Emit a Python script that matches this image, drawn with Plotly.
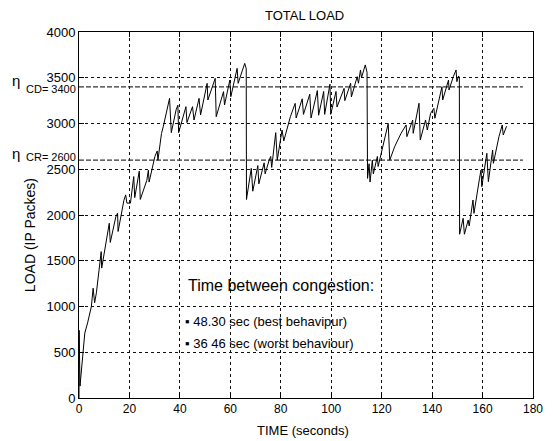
import plotly.graph_objects as go

# ---- data ----
time_s = [
    0, 0.05, 0.4, 1.3, 2.3, 3.4, 4.9, 5.6, 6.2, 6.9, 8.8, 9.0, 11.4, 12.0, 12.4,
    14.6, 15.3, 15.5, 17.8, 18.5, 19.0, 20.4, 21.7, 22.1, 23.9, 24.3, 26.9, 27.5,
    27.8, 30.1, 31.0, 31.3, 32.7, 33.4, 35.9, 36.6, 38.5, 39.2, 39.5, 41.8, 42.4,
    42.8, 45.0, 45.6, 47.6, 48.2, 50.8, 51.1, 54.0, 54.4, 57.3, 57.7, 59.8, 60.2,
    62.7, 63.1, 65.7, 66.3,
    66.4, 68.3, 68.9, 70.9, 71.3, 73.4, 73.8, 75.4, 76.0, 76.4, 78.0, 78.6, 80.5,
    81.2, 83.8, 85.7, 86.1, 88.5, 89.0, 91.5, 92.0, 94.5, 95.0, 97.0, 97.4, 99.5,
    99.8, 101.9, 102.3, 105.1, 105.4, 107.7, 108.0, 110.3, 110.8, 111.6, 112.0,
    113.5, 114.2,
    114.4, 115.0, 115.4, 116.3, 116.7, 118.3, 118.6, 120.6, 122.6, 123.2, 125.2,
    127.7, 129.7, 130.0, 132.3, 132.5, 134.8, 135.3, 137.4, 138.1, 139.4, 140.7,
    141.1, 143.9, 144.2, 146.5, 146.7, 148.4, 149.5, 149.8, 150.5, 150.8,
    150.9, 152.3, 152.8, 154.3, 154.7, 156.2, 156.6, 158.8, 159.4, 159.7, 161.7,
    162.3, 164.0, 164.3, 166.5, 167.8, 168.2, 169.5,
]
load_ip = [
    0, 740, 130, 420, 710, 820, 1000, 1200, 1040, 1150, 1600, 1420, 1840, 1910, 1700,
    1980, 2020, 1820, 2160, 2220, 2130, 2130, 2420, 2190, 2480, 2170, 2380, 2490,
    2360, 2640, 2700, 2600, 2890, 2965, 3275, 2900, 3150, 3200, 2900, 3110, 3184,
    3010, 3184, 3038, 3275, 3093, 3439, 3257, 3494, 3074, 3348, 3202, 3475, 3293,
    3603, 3439, 3657, 3600,
    2170, 2510, 2260, 2540, 2340, 2570, 2450, 2600, 2640, 2520, 2900, 2600, 2929,
    2810, 3074, 3220, 3060, 3270, 3100, 3320, 3060, 3360, 3090, 3350, 3100, 3430,
    3100, 3350, 3180, 3384, 3250, 3440, 3290, 3512, 3440, 3585, 3500,
    3640, 3560,
    2400, 2560, 2360, 2600, 2450, 2640, 2530, 2780, 3000, 2600, 2750,
    2893, 2984, 2856, 3038, 2893, 3221, 2820, 3038, 2929, 3111, 3166,
    3057, 3402, 3257, 3475, 3366, 3512, 3585, 3457, 3520, 3500,
    1790, 1964, 1790, 1945, 1880, 2164, 2018, 2401, 2492, 2309, 2674,
    2364, 2710, 2565, 2856, 2984, 2874, 2970,
]
thresholds = [3400, 2600]
threshold_labels = ["CD= 3400", "CR= 2600"]
threshold_end = 176
x_ticks = [0, 20, 40, 60, 80, 100, 120, 140, 160, 180]
y_ticks = [0, 500, 1000, 1500, 2000, 2500, 3000, 3500, 4000]
notes = ["Time between congestion:", "\u25aa 48.30 sec (best behavipur)", "\u25aa 36 46 sec (worst behaviour)"]

FONT = "Liberation Sans, Arial, sans-serif"

fig = go.Figure()

for th in thresholds:
    fig.add_trace(go.Scatter(
        x=[0, threshold_end], y=[th, th], mode="lines",
        line=dict(color="#333333", width=1.3, dash="5px,2px"),
        hoverinfo="skip", showlegend=False))

fig.add_trace(go.Scatter(
    x=time_s, y=load_ip, mode="lines",
    line=dict(color="black", width=1), showlegend=False))

axis_common = dict(
    showline=True, linecolor="black", linewidth=1, mirror="ticks",
    ticks="inside", ticklen=5, tickcolor="black",
    showgrid=True, gridcolor="#111111", gridwidth=1, griddash="3px,3px",
    zeroline=False, ticklabeloverflow="allow",
)

fig.update_xaxes(range=[0, 180], tickvals=x_ticks, ticktext=[str(v) for v in x_ticks],
                 tickfont=dict(family=FONT, size=12, color="black"), **axis_common)
fig.update_yaxes(range=[0, 4000], tickvals=y_ticks, ticktext=[str(v) for v in y_ticks],
                 tickfont=dict(family=FONT, size=13, color="black"), **axis_common)

ann = []
# title
ann.append(dict(text="TOTAL LOAD", xref="paper", yref="paper", x=0.496, y=1.0,
                yshift=17, xanchor="center", yanchor="middle", showarrow=False,
                font=dict(family=FONT, size=13, color="black")))
# axis titles
ann.append(dict(text="TIME (seconds)", xref="paper", yref="paper", x=0.4935, y=0,
                yshift=-32, xanchor="center", yanchor="middle", showarrow=False,
                font=dict(family=FONT, size=13, color="black")))
ann.append(dict(text="LOAD (IP Packes)", xref="paper", yref="paper", x=0, y=0.445,
                xshift=-49, xanchor="center", yanchor="middle", showarrow=False,
                textangle=-90, font=dict(family=FONT, size=14, color="black")))
# eta labels
for th, lab, dy_eta, dy_lab in zip(thresholds, threshold_labels, [72, 72], [-18, 38]):
    ann.append(dict(text="\u03b7", xref="paper", yref="y", x=0, y=th + dy_eta,
                    xshift=-63, xanchor="center", yanchor="middle", showarrow=False,
                    borderpad=0, font=dict(family=FONT, size=15, color="black")))
    ann.append(dict(text=lab, xref="paper", yref="y", x=0, y=th + dy_lab,
                    xshift=-2, xanchor="right", yanchor="middle", showarrow=False,
                    borderpad=0, font=dict(family=FONT, size=11, color="black")))
# notes
ann.append(dict(text=notes[0], x=42.3, y=1235, xanchor="left", yanchor="middle",
                showarrow=False, font=dict(family=FONT, size=16, color="black")))
ann.append(dict(text=notes[1], x=41.1, y=834, xanchor="left", yanchor="middle",
                showarrow=False, font=dict(family=FONT, size=13, color="black")))
ann.append(dict(text=notes[2], x=41.1, y=601, xanchor="left", yanchor="middle",
                showarrow=False, font=dict(family=FONT, size=13, color="black")))

fig.update_layout(
    width=553, height=441,
    margin=dict(l=79, r=10, t=32, b=43),
    paper_bgcolor="white", plot_bgcolor="white",
    annotations=ann, showlegend=False,
)

fig.write_html(
    "out.html",
    config={"displayModeBar": False},
    post_script="document.body.style.margin='0';document.body.style.overflow='hidden';",
)
